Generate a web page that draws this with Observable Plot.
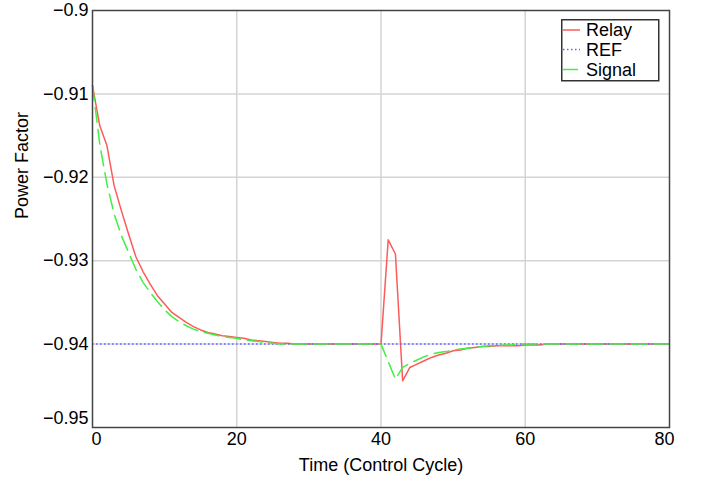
<!DOCTYPE html>
<html><head><meta charset="utf-8">
<script src="https://cdn.jsdelivr.net/npm/d3@7"></script>
<script src="https://cdn.jsdelivr.net/npm/@observablehq/plot@0.6"></script>
<style>
body{margin:0;background:#fff}
#wrap{position:relative;width:705px;height:487px;font-family:"Liberation Sans",Arial,Helvetica,sans-serif}
#legend{position:absolute;left:561px;top:19px}
</style>
</head><body><div id="wrap"></div>
<script>
const cycles = d3.range(0, 81);
const relay = [
 -0.9090,-0.9138,-0.9162,-0.9210,-0.9240,-0.9268,-0.9295,-0.9313,-0.9328,-0.9342,
 -0.9352,-0.9362,-0.9368,-0.9374,-0.9379,-0.9383,-0.9386,-0.9388,-0.9390,-0.9391,
 -0.9392,-0.9393,-0.9395,-0.9396,-0.9397,-0.9398,-0.9399,-0.9399,
 -0.9400,-0.9400,-0.9400,-0.9400,-0.9400,-0.9400,-0.9400,-0.9400,-0.9400,-0.9400,-0.9400,-0.9400,-0.9400,
 -0.9275,-0.9292,-0.9444,-0.9428,-0.9424,-0.9420,-0.9416,-0.9413,-0.9411,-0.9408,
 -0.9407,-0.9405,-0.9404,-0.9403,-0.9403,-0.9402,-0.9402,-0.9402,-0.9402,-0.9401,-0.9401,-0.9401,
 -0.9400,-0.9400,-0.9400,-0.9400,-0.9400,-0.9400,-0.9400,-0.9400,-0.9400,-0.9400,-0.9400,-0.9400,
 -0.9400,-0.9400,-0.9400,-0.9400,-0.9400,-0.9400
];
const signal = [
 -0.9090,-0.9160,-0.9208,-0.9244,-0.9270,-0.9290,-0.9310,-0.9326,-0.9338,-0.9349,
 -0.9359,-0.9367,-0.9373,-0.9378,-0.9382,-0.9385,-0.9387,-0.9389,-0.9391,-0.9392,
 -0.9393,-0.9395,-0.9396,-0.9397,-0.9398,-0.9399,
 -0.9400,-0.9400,-0.9400,-0.9400,-0.9400,-0.9400,-0.9400,-0.9400,-0.9400,-0.9400,-0.9400,-0.9400,-0.9400,-0.9400,-0.9400,
 -0.9421,-0.9442,-0.9428,-0.9423,-0.9419,-0.9415,-0.9412,-0.9410,-0.9409,-0.9407,
 -0.9406,-0.9405,-0.9404,-0.9403,-0.9402,-0.9402,-0.9401,-0.9401,
 -0.9400,-0.9400,-0.9400,-0.9400,-0.9400,-0.9400,-0.9400,-0.9400,-0.9400,-0.9400,-0.9400,
 -0.9400,-0.9400,-0.9400,-0.9400,-0.9400,-0.9400,-0.9400,-0.9400,-0.9400,-0.9400,-0.9400
];
const refLevel = [-0.94];
const xTicks = [0, 20, 40, 60, 80];
const yTicks = [-0.9, -0.91, -0.92, -0.93, -0.94, -0.95];
const xGrid = [20, 40, 60];
const yGrid = [-0.91, -0.92, -0.93, -0.94];
const seriesNames = ["Relay", "REF", "Signal"];
const xLabel = "Time (Control Cycle)";
const yLabel = "Power Factor";

const colors = {Relay: "#ff5a5a", REF: "#6060ff", Signal: "#44ee44"};
const dashes = {Relay: null, REF: "1.5,2.5", Signal: "15,7"};

const data = cycles.map((t, i) => ({t, relay: relay[i], signal: signal[i]}));
const fmt = d => String(d).replace("-", "\u2212");
const font = '"Liberation Sans", Arial, Helvetica, sans-serif';

const chart = Plot.plot({
  width: 705, height: 487,
  marginLeft: 92, marginRight: 36, marginTop: 10, marginBottom: 60,
  style: {fontFamily: font, fontSize: "18px", color: "#000", background: "#fff", overflow: "visible"},
  x: {domain: [0, 80]},
  y: {domain: [-0.95, -0.9]},
  marks: [
    Plot.ruleX(xGrid, {stroke: "#d4d4d4", strokeWidth: 1.5}),
    Plot.ruleY(yGrid, {stroke: "#d4d4d4", strokeWidth: 1.5}),
    Plot.line(data, {x: "t", y: "relay", stroke: colors.Relay, strokeWidth: 1.5}),
    Plot.ruleY(refLevel, {stroke: colors.REF, strokeWidth: 1.5, strokeDasharray: dashes.REF}),
    Plot.line(data, {x: "t", y: "signal", stroke: colors.Signal, strokeWidth: 1.5, strokeDasharray: dashes.Signal}),
    Plot.frame({stroke: "#444", strokeWidth: 1.5}),
    Plot.axisY(yTicks.slice(0, 5), {tickSize: 0, tickPadding: 4, tickFormat: fmt, label: null}),
    Plot.axisY(yTicks.slice(5), {tickSize: 0, tickPadding: 4, tickFormat: fmt, label: null, dy: -9}),
    Plot.axisX(xTicks.slice(1, 4), {tickSize: 0, tickPadding: 5, label: null}),
    Plot.axisX(xTicks.slice(0, 1), {tickSize: 0, tickPadding: 5, label: null, dx: 4}),
    Plot.axisX(xTicks.slice(4), {tickSize: 0, tickPadding: 5, label: null, dx: -5}),
    Plot.text([xLabel], {text: d => d, frameAnchor: "bottom", dy: 43, fontSize: 18}),
    Plot.text([yLabel], {text: d => d, frameAnchor: "left", dx: -70, rotate: -90, fontSize: 18})
  ]
});
const wrap = document.getElementById("wrap");
wrap.appendChild(chart);

// legend overlay
const lg = d3.select(wrap).append("svg").attr("id", "legend")
  .attr("width", 99).attr("height", 63);
lg.append("rect").attr("x", 0.75).attr("y", 0.75).attr("width", 97).attr("height", 61)
  .attr("fill", "#fff").attr("stroke", "#333").attr("stroke-width", 1.5);
const rowsY = [11, 30.5, 50.5];
seriesNames.forEach((name, i) => {
  lg.append("line").attr("x1", 2).attr("x2", 19).attr("y1", rowsY[i]).attr("y2", rowsY[i])
    .attr("stroke", colors[name]).attr("stroke-width", 1.5)
    .attr("stroke-dasharray", dashes[name]);
  lg.append("text").attr("x", 25).attr("y", rowsY[i]).attr("dy", "0.35em")
    .attr("font-family", font).attr("font-size", 18).text(name);
});
</script>
</body></html>
